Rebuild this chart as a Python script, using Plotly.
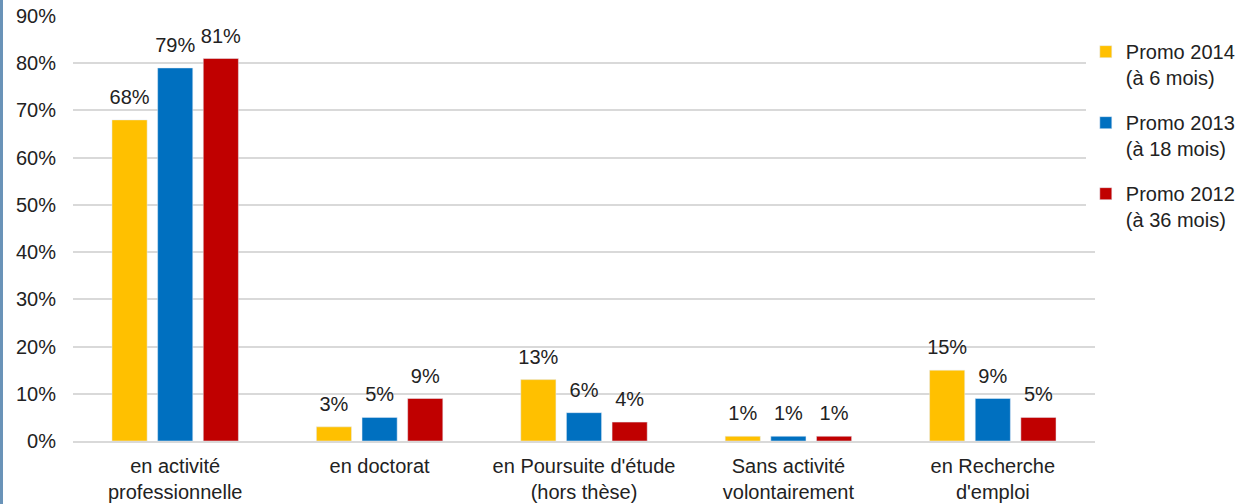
import plotly.graph_objects as go

categories = ["en activité<br>professionnelle", "en doctorat", "en Poursuite d'étude<br>(hors thèse)",
              "Sans activité<br>volontairement", "en Recherche<br>d'emploi"]
series_names = ["Promo 2014<br>(à 6 mois)", "Promo 2013<br>(à 18 mois)", "Promo 2012<br>(à 36 mois)"]
promo2014 = [0.68, 0.03, 0.13, 0.01, 0.15]
promo2013 = [0.79, 0.05, 0.06, 0.01, 0.09]
promo2012 = [0.81, 0.09, 0.04, 0.01, 0.05]
colors = ["#FFC000", "#0070C0", "#C00000"]
tick_vals = [0, 0.1, 0.2, 0.3, 0.4, 0.5, 0.6, 0.7, 0.8, 0.9]

W, H = 1242, 504
ML, MR, MT, MB = 73, 147, 16, 63
font = "Liberation Sans, Arial, sans-serif"
BARGAP = 0.33

fig = go.Figure()
for i, (name, vals) in enumerate(zip(series_names, [promo2014, promo2013, promo2012])):
    fig.add_trace(go.Bar(
        x=categories, y=vals, name=name, marker_color=colors[i],
        offsetgroup=str(i), alignmentgroup="a", legendgroup=f"g{i}",
    ))
for i, vals in enumerate([promo2014, promo2013, promo2012]):
    fig.add_trace(go.Scatter(
        x=categories, y=vals, mode="markers+text",
        text=[f"{round(v*100)}%" for v in vals], textposition="top center",
        textfont=dict(size=20, color="#222222", family=font),
        marker=dict(size=16, opacity=0), hoverinfo="skip",
        offsetgroup=str(i), alignmentgroup="a", showlegend=False, cliponaxis=False,
    ))

pw = W - ML - MR
ph = H - MT - MB
fig.add_shape(type="rect", xref="paper", yref="paper",
              x0=-ML / pw, x1=-(ML - 3) / pw, y0=-MB / ph, y1=1 + MT / ph,
              fillcolor="#6A93B8", line_width=0, layer="below")

fig.update_layout(
    width=W, height=H,
    margin=dict(l=ML, r=MR, t=MT, b=MB, autoexpand=False),
    paper_bgcolor="white", plot_bgcolor="white",
    barmode="group", bargap=BARGAP, bargroupgap=0.23,
    scattermode="group", scattergap=BARGAP,
    font=dict(family=font, size=20, color="#222222"),
    showlegend=True,
    legend=dict(x=0.991, xanchor="left", y=0.962, yanchor="top",
                font=dict(size=20, family=font, color="#222222"),
                valign="top", tracegroupgap=16, itemwidth=30),
)
fig.update_yaxes(range=[0, 0.9], tickvals=tick_vals, tickformat=".0%",
                 showgrid=True, gridcolor="#D9D9D9", gridwidth=1.5,
                 zeroline=False, showline=False, ticks="", automargin=False,
                 ticklabelstandoff=16, tickfont=dict(size=20))
fig.update_xaxes(showline=True, linecolor="#D9D9D9", linewidth=1.5, automargin=False,
                 ticks="", ticklabelstandoff=6, tickfont=dict(size=20))

fig.write_html("out.html", config={"displayModeBar": False},
               post_script="document.body.style.margin='0';")
